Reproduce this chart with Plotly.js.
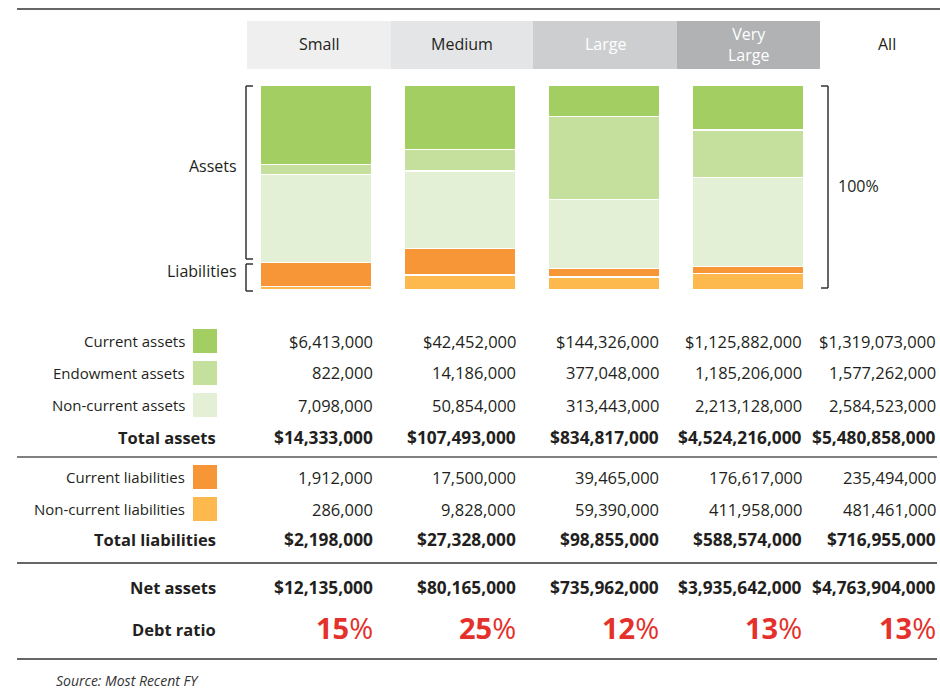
<!DOCTYPE html>
<html>
<head>
<meta charset="utf-8">
<script src="https://cdn.plot.ly/plotly-3.0.1.min.js"></script>
<style>html,body{margin:0;padding:0;background:#fff;}#chart{width:940px;height:693px;}</style>
</head>
<body>
<div id="chart"></div>
<script>
// ---- data ----
const categories = ['Small', 'Medium', 'Large', 'Very Large', 'All'];
const headerLabels = ['Small', 'Medium', 'Large', 'Very<br>Large', 'All'];
const currentAssets = [6413000, 42452000, 144326000, 1125882000, 1319073000];
const endowmentAssets = [822000, 14186000, 377048000, 1185206000, 1577262000];
const nonCurrentAssets = [7098000, 50854000, 313443000, 2213128000, 2584523000];
const totalAssets = [14333000, 107493000, 834817000, 4524216000, 5480858000];
const currentLiabilities = [1912000, 17500000, 39465000, 176617000, 235494000];
const nonCurrentLiabilities = [286000, 9828000, 59390000, 411958000, 481461000];
const totalLiabilities = [2198000, 27328000, 98855000, 588574000, 716955000];
const netAssets = [12135000, 80165000, 735962000, 3935642000, 4763904000];
const debtRatio = [15, 25, 12, 13, 13];

// ---- layout helpers ----
const W = 940, H = 693;
const X = px => px / W;
const Y = py => 1 - py / H;
const FONT = 'Open Sans, sans-serif';
const TXT = '#231f20';
const fmt = v => v.toLocaleString('en-US');

const colors = {
  ca: '#a3cf62', ea: '#c5e09c', nca: '#e3f0d6', cl: '#f69636', ncl: '#fdb94d'
};

const barCats = categories.slice(0, 4);
function barTrace(vals, color, name) {
  return {
    type: 'bar', x: barCats, y: vals.slice(0, 4), name: name,
    marker: { color: color, line: { color: '#ffffff', width: 1.5 } },
    hoverinfo: 'skip', showlegend: false
  };
}
const data = [
  barTrace(nonCurrentLiabilities, colors.ncl, 'Non-current liabilities'),
  barTrace(currentLiabilities, colors.cl, 'Current liabilities'),
  barTrace(nonCurrentAssets, colors.nca, 'Non-current assets'),
  barTrace(endowmentAssets, colors.ea, 'Endowment assets'),
  barTrace(currentAssets, colors.ca, 'Current assets')
];

const shapes = [];
const annotations = [];
function line(x0, y0, x1, y1, color, width) {
  shapes.push({ type: 'line', xref: 'paper', yref: 'paper', x0: X(x0), y0: Y(y0), x1: X(x1), y1: Y(y1),
    line: { color: color, width: width } });
}
function rect(x0, y0, x1, y1, fill) {
  shapes.push({ type: 'rect', xref: 'paper', yref: 'paper', x0: X(x0), y0: Y(y0), x1: X(x1), y1: Y(y1),
    fillcolor: fill, line: { width: 0 }, layer: 'below' });
}
function text(t, x, y, anchor, size, color, extra) {
  annotations.push(Object.assign({ xref: 'paper', yref: 'paper', x: X(x), y: Y(y), text: t,
    xanchor: anchor, yanchor: 'middle', showarrow: false, borderpad: 0,
    font: { family: FONT, size: size, color: color } }, extra || {}));
}

// rules
line(17, 9, 940, 9, '#333333', 1.5);
line(17, 457, 937, 457, '#808080', 2);
line(17, 563, 937, 563, '#333333', 1.5);
line(17, 659, 937, 659, '#333333', 1.5);

// header boxes
const headerBoxes = [[247, 391, '#efefef', TXT], [391, 533, '#e4e5e7', TXT], [533, 677, '#cdcecf', '#ffffff'], [677, 820, '#b0b2b4', '#ffffff']];
headerBoxes.forEach((b, i) => {
  rect(b[0], 21, b[1], 69, b[2]);
  text(headerLabels[i], (b[0] + b[1]) / 2, 44, 'center', 16, b[3], { align: 'center' });
});
text(headerLabels[4], 887, 44, 'center', 16, TXT);

// brackets
const BR = '#333333';
line(246, 86, 246, 259, BR, 1.5); line(246, 86, 253, 86, BR, 1.5); line(246, 259, 253, 259, BR, 1.5);
line(246, 264, 246, 291, BR, 1.5); line(246, 264, 253, 264, BR, 1.5); line(246, 291, 253, 291, BR, 1.5);
line(828, 86, 828, 288, BR, 1.5); line(821, 86, 828, 86, BR, 1.5); line(821, 288, 828, 288, BR, 1.5);
text('Assets', 238, 166, 'right', 16, TXT);
text('Liabilities', 238, 271, 'right', 16, TXT);
text('100%', 837, 186, 'left', 16, TXT);

// table
const colRight = [374, 517, 660, 803, 937];
const rows = [
  { label: 'Current assets', vals: currentAssets, y: 341, swatch: colors.ca, dollar: true },
  { label: 'Endowment assets', vals: endowmentAssets, y: 373, swatch: colors.ea },
  { label: 'Non-current assets', vals: nonCurrentAssets, y: 405, swatch: colors.nca },
  { label: 'Total assets', vals: totalAssets, y: 437, bold: true, dollar: true },
  { label: 'Current liabilities', vals: currentLiabilities, y: 477, swatch: colors.cl },
  { label: 'Non-current liabilities', vals: nonCurrentLiabilities, y: 509, swatch: colors.ncl },
  { label: 'Total liabilities', vals: totalLiabilities, y: 539, bold: true, dollar: true },
  { label: 'Net assets', vals: netAssets, y: 587, bold: true, dollar: true }
];
rows.forEach(r => {
  if (r.bold) {
    text('<b>' + r.label + '</b>', 217, r.y, 'right', 16.5, TXT);
  } else {
    text(r.label, 186, r.y, 'right', 15, TXT);
    rect(193, r.y - 12, 217, r.y + 12, r.swatch);
  }
  r.vals.forEach((v, i) => {
    let s = (r.dollar ? '$' : '') + fmt(v);
    if (r.bold) s = '<b>' + s + '</b>';
    text(s, colRight[i], r.y, 'right', r.bold ? 17.3 : 16.5, TXT);
  });
});
text('<b>Debt ratio</b>', 217, 629, 'right', 16.5, TXT);
debtRatio.forEach((d, i) => {
  text('<b>' + d + '</b>%', colRight[i], 627, 'right', 29, '#e4312b');
});
text('<i>Source: Most Recent FY</i>', 55, 680, 'left', 14, '#333333');

const layout = {
  width: W, height: H,
  margin: { l: 0, r: 0, t: 0, b: 0 },
  paper_bgcolor: '#ffffff', plot_bgcolor: 'rgba(0,0,0,0)',
  barmode: 'stack', barnorm: 'percent', bargap: 0.222,
  showlegend: false,
  xaxis: { domain: [X(244), X(820)], range: [-0.5, 3.5], type: 'category',
    showticklabels: false, showgrid: false, zeroline: false, showline: false, fixedrange: true },
  yaxis: { domain: [Y(290), Y(85)], range: [0, 100],
    showticklabels: false, showgrid: false, zeroline: false, showline: false, fixedrange: true },
  shapes: shapes,
  annotations: annotations,
  font: { family: FONT, color: TXT }
};
Plotly.newPlot('chart', data, layout, { displayModeBar: false, staticPlot: true });
</script>
</body>
</html>
